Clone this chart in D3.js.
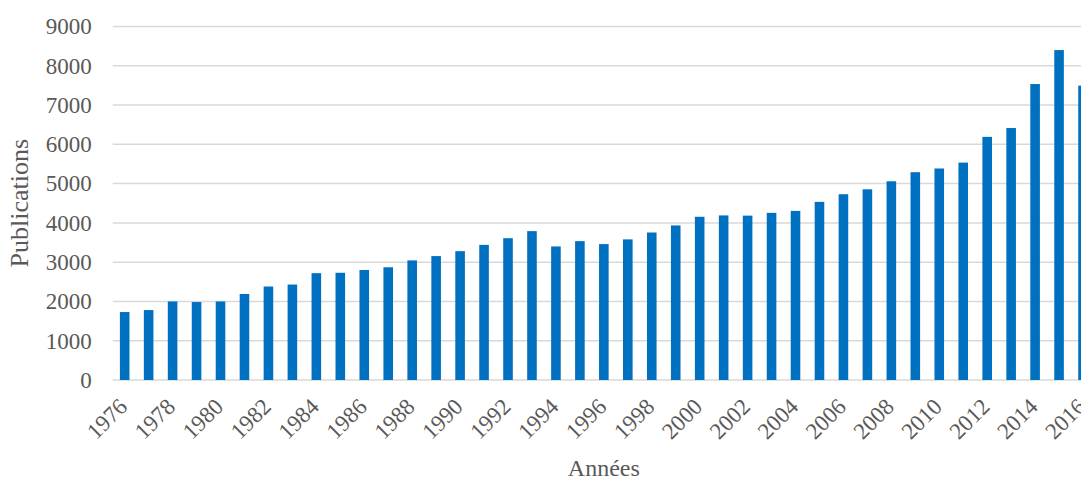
<!DOCTYPE html>
<html>
<head>
<meta charset="utf-8">
<script src="https://cdn.jsdelivr.net/npm/d3@7"></script>
<style>
  html, body { margin: 0; padding: 0; background: #fff; overflow: hidden; }
  svg { display: block; }
</style>
</head>
<body>
<div id="chart"></div>
<script>
// years shown on the x axis
const years = d3.range(1976, 2017).map(String);

// publications per year
const publications = [
  1730, 1780, 2000, 1985, 2000, 2190, 2380, 2430, 2720, 2730,
  2800, 2870, 3045, 3155, 3280, 3440, 3610, 3790, 3400, 3535,
  3460, 3580, 3755, 3935, 4155, 4190, 4185, 4255, 4305, 4535,
  4730, 4855, 5060, 5290, 5385, 5535, 6190, 6415, 7535, 8400,
  7495
];

const yTicks = [0, 1000, 2000, 3000, 4000, 5000, 6000, 7000, 8000, 9000];

const data = years.map((y, i) => ({ year: y, value: publications[i] }));

const width = 1081, height = 481;
const margin = { top: 26.5, left: 112.7, bottom: 101 };
const plotRight = 1095;   // plot runs past the cropped right edge

const svg = d3.select("#chart").append("svg")
  .attr("width", width)
  .attr("height", height);

const x = d3.scaleBand()
  .domain(years)
  .range([margin.left, plotRight])
  .paddingInner(0.6)
  .paddingOuter(0.3);

const y = d3.scaleLinear()
  .domain([0, 9000])
  .range([height - margin.bottom, margin.top]);

const font = "'Liberation Serif', 'Times New Roman', serif";
const textColor = "#595959";

// gridlines
svg.append("g")
  .selectAll("line")
  .data(yTicks)
  .enter().append("line")
    .attr("x1", margin.left)
    .attr("x2", plotRight)
    .attr("y1", d => y(d))
    .attr("y2", d => y(d))
    .attr("stroke", "#d9d9d9")
    .attr("stroke-width", 1.5);

// y axis labels
const yAxis = svg.append("g")
  .attr("transform", "translate(" + margin.left + ",0)")
  .call(d3.axisLeft(y).tickValues(yTicks).tickSize(0).tickPadding(21).tickFormat(d3.format("d")));
yAxis.select(".domain").remove();
yAxis.selectAll("text")
  .attr("font-family", font)
  .attr("font-size", 23)
  .attr("fill", textColor);

// bars
svg.append("g")
  .selectAll("rect")
  .data(data)
  .enter().append("rect")
    .attr("x", d => x(d.year))
    .attr("y", d => y(d.value))
    .attr("width", x.bandwidth())
    .attr("height", d => y(0) - y(d.value))
    .attr("fill", "#0070c0");

// x axis labels, every other year
const xAxis = svg.append("g")
  .attr("transform", "translate(0," + y(0) + ")")
  .call(d3.axisBottom(x).tickValues(years.filter((d, i) => i % 2 === 0)).tickSize(0).tickPadding(0));
xAxis.select(".domain").remove();
xAxis.selectAll("text")
  .attr("font-family", font)
  .attr("font-size", 23)
  .attr("fill", textColor)
  .attr("text-anchor", "end")
  .attr("dy", 0)
  .attr("transform", "translate(4,28) rotate(-45)");

// axis titles
svg.append("text")
  .attr("x", (margin.left + plotRight) / 2)
  .attr("y", 476)
  .attr("text-anchor", "middle")
  .attr("font-family", font)
  .attr("font-size", 24)
  .attr("fill", textColor)
  .text("Années");

svg.append("text")
  .attr("transform", "translate(28," + ((y(0) + y(9000)) / 2) + ") rotate(-90)")
  .attr("text-anchor", "middle")
  .attr("font-family", font)
  .attr("font-size", 26)
  .attr("fill", textColor)
  .text("Publications");
</script>
</body>
</html>
